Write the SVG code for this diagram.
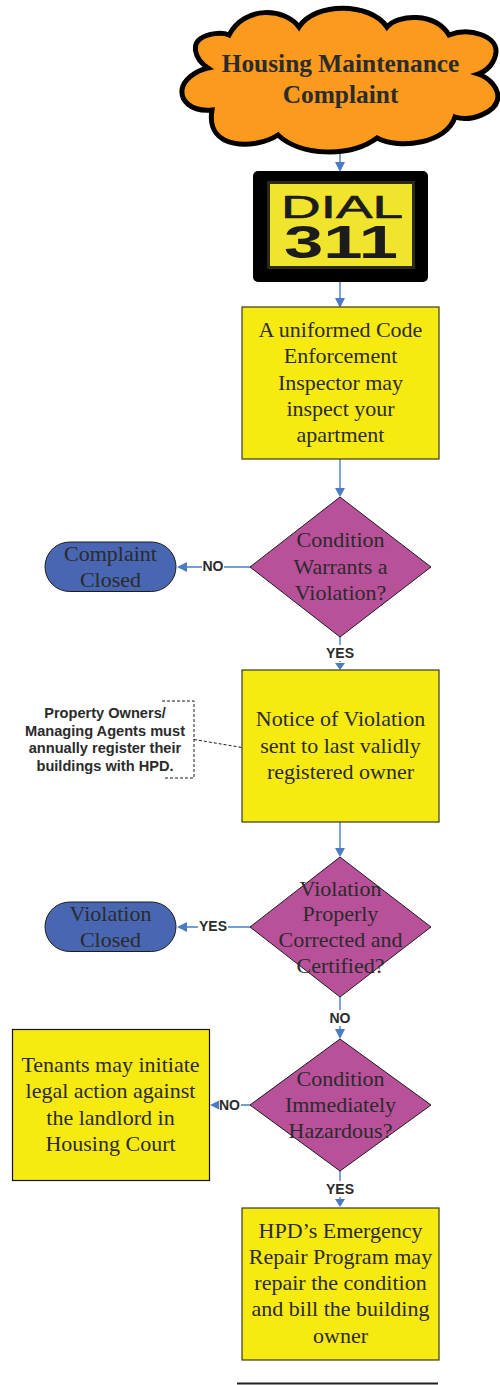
<svg xmlns="http://www.w3.org/2000/svg" width="500" height="1385" viewBox="0 0 500 1385">
<style>
.t{font-family:"Liberation Serif","Times New Roman",serif;font-size:22px;fill:#2b2b2b;text-anchor:middle}
.b{font-family:"Liberation Sans",Arial,sans-serif;font-weight:bold;font-size:14px;fill:#2b2b2b;text-anchor:middle}
.n{font-family:"Liberation Sans",Arial,sans-serif;font-weight:bold;font-size:14.600px;fill:#2b2b2b;text-anchor:middle}
.h{font-family:"Liberation Serif","Times New Roman",serif;font-weight:bold;font-size:25.400px;fill:#2b2b2b;text-anchor:middle}
.r{fill:#f6ea10;stroke:#3a3a1a;stroke-width:1.2}
.d{fill:#b8509a;stroke:#1c1c1c;stroke-width:1}
.p{fill:#4866b2;stroke:#1c1c1c;stroke-width:1}
.c{stroke:#4a7cc6;stroke-width:1.4;fill:none}
.a{fill:#4a7cc6;stroke:none}
.k{stroke:#1c1c1c;stroke-width:1;stroke-dasharray:3 2;fill:none}
</style>
<g id="connectors">
<path class="c" d="M340 152V170M340 276V299M340 459V489M340 636V662M340 821V849M340 997V1031M340 1171V1200M250 567H185M250 927H185M250 1105H218"/>
<path class="a" d="M335 162H345L340 172ZM335 298H345L340 308ZM335 488H345L340 497ZM335 663H345L340 670ZM335 848H345L340 857ZM335 1029H345L340 1039ZM335 1199H345L340 1207ZM187 562V572L177 567ZM187 922V932L177 927ZM220 1100V1110L210 1105Z"/>
<path class="k" d="M162 701H194V778H163M194 739.500L242 747.500"/>
</g>
<g id="cloud">
<path d="M299 27C315 2 370 2 387 27C398 14 435 12 449 35C470 27 497 36 496 52C495 63 487 71 478 74C490 78 498 88 498 97C497 113 470 122 455 117C447 143 400 150 377 138C350 158 300 156 278 135C255 150 205 150 212 110C190 112 181 100 182 90C183 80 195 71 208 68C193 58 193 44 200 39C208 33 222 32 229 35C245 5 285 8 299 27Z" fill="#fb9a1c" stroke="#000" stroke-width="5"/>
<text class="h" x="340.500" y="72">Housing Maintenance</text>
<text class="h" x="340.500" y="103">Complaint</text>
</g>
<g id="dial311">
<rect x="253" y="171" width="175" height="111" rx="5" fill="#000"/>
<rect x="268.500" y="182.500" width="145" height="85" fill="#f0e42c" stroke="#2a2a10" stroke-width="3"/>
<text x="342" y="218" font-family="Liberation Sans,Arial,sans-serif" font-size="32" fill="#1c1c1c" text-anchor="middle" textLength="122" lengthAdjust="spacingAndGlyphs" stroke="#1c1c1c" stroke-width="0.6">DIAL</text>
<text x="341" y="258" font-family="Liberation Sans,Arial,sans-serif" font-weight="bold" font-size="46" fill="#1c1c1c" text-anchor="middle" textLength="114" lengthAdjust="spacingAndGlyphs">311</text>
</g>
<g id="inspector">
<rect class="r" x="242" y="307" width="197" height="152"/>
<text class="t" x="340.500" y="337">A uniformed Code</text>
<text class="t" x="340.500" y="363">Enforcement</text>
<text class="t" x="340.500" y="390">Inspector may</text>
<text class="t" x="340.500" y="416">inspect your</text>
<text class="t" x="340.500" y="442">apartment</text>
</g>
<g id="warrants">
<path class="d" d="M340 497L431 567L340 637L250 567Z"/>
<text class="t" x="340.500" y="547">Condition</text>
<text class="t" x="340.500" y="574">Warrants a</text>
<text class="t" x="340.500" y="600">Violation?</text>
</g>
<g id="complaint-closed">
<rect class="p" x="45" y="542" width="131" height="49.500" rx="24.700"/>
<text class="t" x="110.500" y="561">Complaint</text>
<text class="t" x="110.500" y="587">Closed</text>
</g>
<g id="label-no-1"><rect x="202" y="558" width="22" height="16" fill="#fff"/><text class="b" x="213" y="571">NO</text></g>
<g id="label-yes-1"><rect x="325" y="645" width="30" height="16" fill="#fff"/><text class="b" x="340" y="658">YES</text></g>
<g id="note">
<text class="n" x="105" y="718">Property Owners/</text>
<text class="n" x="105" y="736">Managing Agents must</text>
<text class="n" x="105" y="753">annually register their</text>
<text class="n" x="105" y="771">buildings with HPD.</text>
</g>
<g id="notice">
<rect class="r" x="242" y="670" width="197" height="152"/>
<text class="t" x="340.500" y="726">Notice of Violation</text>
<text class="t" x="340.500" y="753">sent to last validly</text>
<text class="t" x="340.500" y="779">registered owner</text>
</g>
<g id="corrected">
<path class="d" d="M340 857L431 927L340 997L250 927Z"/>
<text class="t" x="340.500" y="896">Violation</text>
<text class="t" x="340.500" y="921">Properly</text>
<text class="t" x="340.500" y="947">Corrected and</text>
<text class="t" x="340.500" y="973">Certified?</text>
</g>
<g id="violation-closed">
<rect class="p" x="45" y="902" width="131" height="49.500" rx="24.700"/>
<text class="t" x="110.500" y="921">Violation</text>
<text class="t" x="110.500" y="947">Closed</text>
</g>
<g id="label-yes-2"><rect x="198" y="918" width="30" height="16" fill="#fff"/><text class="b" x="213" y="931">YES</text></g>
<g id="label-no-2"><rect x="329" y="1010" width="22" height="16" fill="#fff"/><text class="b" x="340" y="1023">NO</text></g>
<g id="hazardous">
<path class="d" d="M340 1039L431 1105L340 1171L250 1105Z"/>
<text class="t" x="340.500" y="1086">Condition</text>
<text class="t" x="340.500" y="1112">Immediately</text>
<text class="t" x="340.500" y="1138">Hazardous?</text>
</g>
<g id="label-no-3"><rect x="219" y="1097" width="22" height="16" fill="#fff"/><text class="b" x="229.500" y="1110">NO</text></g>
<g id="label-yes-3"><rect x="325" y="1181" width="30" height="16" fill="#fff"/><text class="b" x="340" y="1194">YES</text></g>
<g id="tenants">
<rect x="12.500" y="1029.500" width="197" height="151" fill="#f6ea10" stroke="#111" stroke-width="1.200"/>
<text class="t" x="110.500" y="1072">Tenants may initiate</text>
<text class="t" x="110.500" y="1098">legal action against</text>
<text class="t" x="110.500" y="1125">the landlord in</text>
<text class="t" x="110.500" y="1151">Housing Court</text>
</g>
<g id="hpd">
<rect class="r" x="242" y="1208" width="197" height="152"/>
<text class="t" x="340.500" y="1238">HPD’s Emergency</text>
<text class="t" x="340.500" y="1264">Repair Program may</text>
<text class="t" x="340.500" y="1290">repair the condition</text>
<text class="t" x="340.500" y="1316">and bill the building</text>
<text class="t" x="340.500" y="1343">owner</text>
</g>
<path d="M237 1383.500H438" stroke="#222" stroke-width="2"/>
</svg>
